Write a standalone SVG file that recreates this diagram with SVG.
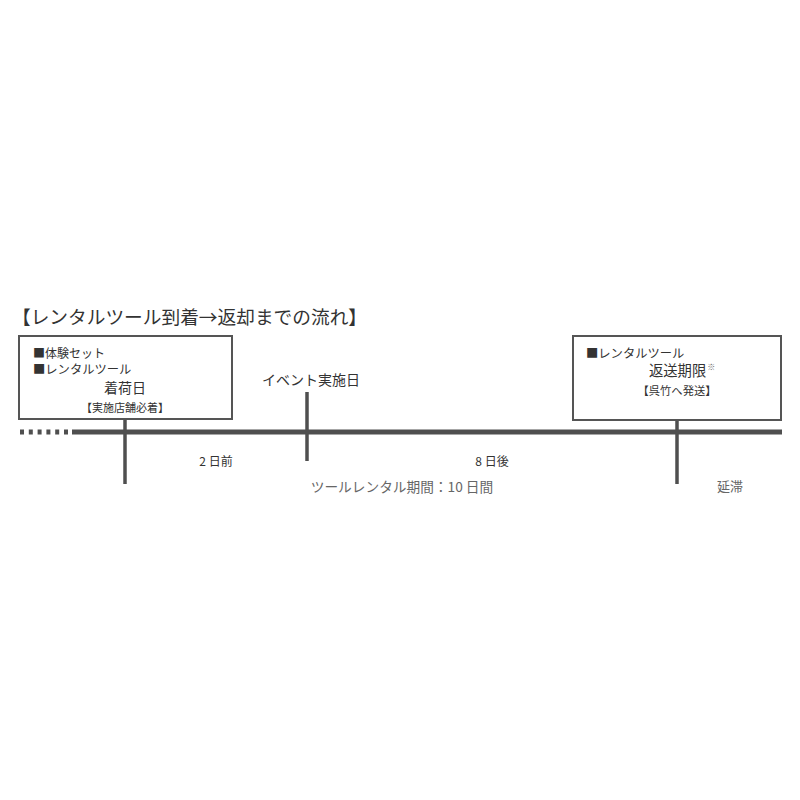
<svg xmlns="http://www.w3.org/2000/svg" width="800" height="800" viewBox="0 0 800 800">
<style>
text{font-family:"Noto Sans CJK JP","Noto Sans",sans-serif;fill:#333;}
.box{fill:#fff;stroke:#555;stroke-width:2;}
.ln{stroke:#4f4f4f;stroke-width:3.5;fill:none;}
.main{stroke:#4f4f4f;stroke-width:5;fill:none;}
.gray{fill:#666;}
</style>
<rect width="800" height="800" fill="#fff"/>
<text id="title" x="12" y="324" font-size="18.7">【レンタルツール到着→返却までの流れ】</text>
<g id="connectors">
<line class="main" x1="20" y1="432" x2="70" y2="432" stroke-dasharray="4 4.8"/>
<line class="main" x1="72" y1="432" x2="782" y2="432"/>
<line class="ln" x1="125" y1="419" x2="125" y2="484"/>
<line class="ln" x1="307" y1="392" x2="307" y2="461"/>
<line class="ln" x1="677" y1="420" x2="677" y2="484"/>
</g>
<g id="node-arrival">
<rect class="box" x="19" y="336" width="213" height="83"/>
<text x="33" y="357.5" font-size="12">■体験セット</text>
<text x="33" y="374" font-size="12.3">■レンタルツール</text>
<text x="125" y="393" font-size="14" text-anchor="middle">着荷日</text>
<text x="125" y="412" font-size="11" text-anchor="middle">【実施店舗必着】</text>
</g>
<g id="node-event">
<text x="311" y="385" font-size="14" text-anchor="middle">イベント実施日</text>
</g>
<g id="node-return">
<rect class="box" x="573" y="336" width="208" height="84"/>
<text x="586" y="358" font-size="12.3">■レンタルツール</text>
<text x="649" y="376" font-size="14.3">返送期限<tspan font-size="8" dy="-6" dx="1" fill="#666">※</tspan></text>
<text x="677" y="395" font-size="11.3" text-anchor="middle">【呉竹へ発送】</text>
</g>
<g id="labels">
<text x="216" y="466" font-size="12" text-anchor="middle">2 日前</text>
<text x="492" y="466" font-size="12" text-anchor="middle">8 日後</text>
<text class="gray" x="402" y="492" font-size="13.7" text-anchor="middle">ツールレンタル期間：10 日間</text>
<text class="gray" x="730" y="491" font-size="13" text-anchor="middle">延滞</text>
</g>
</svg>
